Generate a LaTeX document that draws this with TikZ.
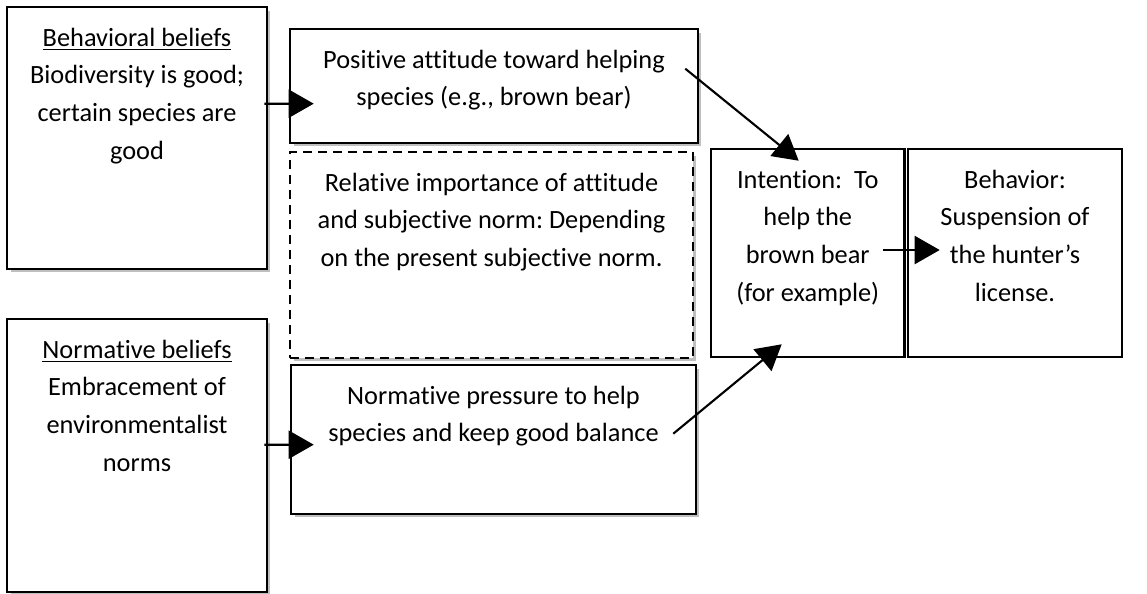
\documentclass[tikz,border=0pt]{standalone}
\usepackage{fontspec}
\setmainfont{Carlito}[Ligatures=NoCommon]
\frenchspacing
\usetikzlibrary{positioning, calc, shadows, arrows.meta}

\tikzset{
  box/.style={draw, fill=white, line width=1.5pt, drop shadow={shadow xshift=0.07cm, shadow yshift=-0.07cm, fill=black!25, opacity=1}},
  plainbox/.style={draw, fill=white, line width=1.5pt},
  toptext/.style={anchor=north, align=center, font=\fontsize{15}{21.5}\selectfont, yshift=-0.32cm},
  arr/.style={line width=1.2pt, -{Triangle[length=0.5cm, width=0.56cm]}}
}

\begin{document}
\begin{tikzpicture}[x=0.02cm, y=-0.02cm]
    \useasboundingbox (0,0) rectangle (1147,593);
    \node[box, minimum width=5.2cm, minimum height=5.24cm, label={[toptext]north:{\underline{Behavioral beliefs}\\Biodiversity is good;\\certain species are\\good}}] (behav) at (137,138) {};
    \node[box, minimum width=5.2cm, minimum height=5.46cm, label={[toptext]north:{\underline{Normative beliefs}\\Embracement of\\environmentalist\\norms}}] (normb) at (137,455.5) {};
    \node[box, minimum width=8.16cm, minimum height=2.28cm, label={[toptext]north:{Positive attitude toward helping\\species (e.g., brown bear)}}] (attit) at (494,86) {};
    \node[box, dash pattern=on 0.18cm off 0.12cm, minimum width=8.06cm, minimum height=4.12cm, label={[toptext]north:{Relative importance of attitude\\and subjective norm: Depending\\on the present subjective norm.}}] (relimp) at (491.5,255) {};
    \node[box, minimum width=8.1cm, minimum height=2.98cm, label={[toptext]north:{Normative pressure to help\\species and keep good balance}}] (normp) at (493.5,439.5) {};
    \node[plainbox, minimum width=3.87cm, minimum height=4.16cm, label={[toptext]north:{Intention:\ \ To\\help the\\brown bear\\(for example)}}] (intent) at (807.75,253) {};
    \node[plainbox, minimum width=4.28cm, minimum height=4.16cm, label={[toptext]north:{Behavior:\\Suspension of\\the hunter’s\\license.}}] (behv) at (1015,253) {};
    \draw[arr] ($(behav.north east)+(-4,98)$) -- ($(attit.north west)+(25,76)$);
    \draw[arr] ($(normb.north east)+(-4,127)$) -- ($(normp.north west)+(24,81)$);
    \draw[arr] ($(attit.north east)+(-14,41)$) -- ($(intent.north west)+(89,13)$);
    \draw[arr] ($(normp.north east)+(-24,70)$) -- ($(intent.south west)+(72,-14)$);
    \draw[arr] ($(intent.east)+(-23,-3)$) -- ($(behv.west)+(33,-3)$);
\end{tikzpicture}
\end{document}
